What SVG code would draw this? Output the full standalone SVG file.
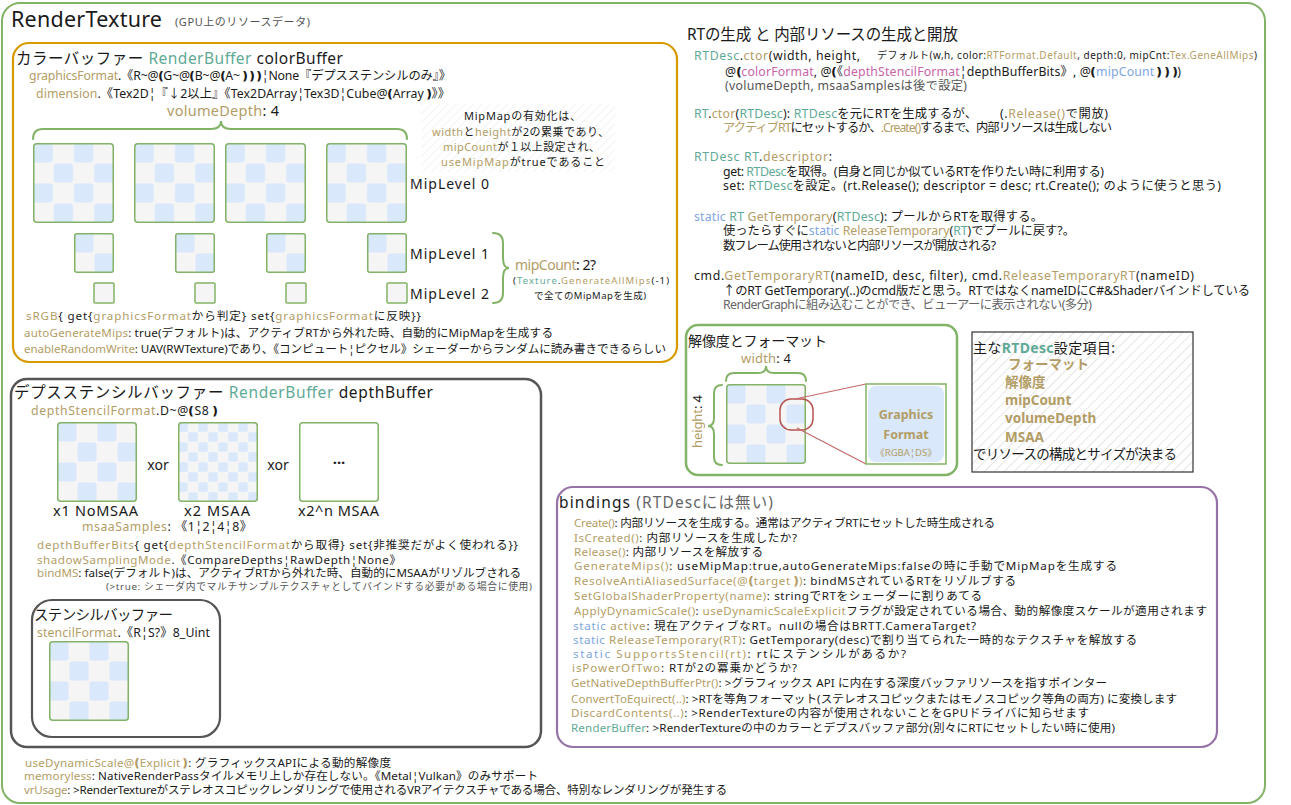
<svg xmlns="http://www.w3.org/2000/svg" width="1291" height="805" viewBox="0 0 1291 805">
<style>
text{font-family:"Noto Sans","Noto Sans CJK JP",sans-serif;fill:#1a1a1a}
.k{fill:#b39d66}.g{fill:#5faa96}.b{fill:#7ea6e0}.p{fill:#c864a8}.gr{fill:#666}
.s12{font-size:12.3px}.s11{font-size:11.6px}.s15{font-size:15.5px}.s14{font-size:14.5px}
.q{letter-spacing:-2.5px}
.brace{fill:none;stroke:#82b366;stroke-width:2;stroke-linecap:round}
.tex{fill:none;stroke:#82b366;stroke-width:1.5}
.bold{font-weight:bold}
</style>
<defs>
<pattern id="pc4" width="40" height="40" patternUnits="userSpaceOnUse">
<rect width="40" height="40" fill="#f5f5f5"/>
<rect x="0.5" y="0.5" width="19" height="19" rx="3" fill="#dae8fc"/>
<rect x="20.5" y="20.5" width="19" height="19" rx="3" fill="#dae8fc"/>
</pattern>
<pattern id="pc8" width="20" height="20" patternUnits="userSpaceOnUse">
<rect width="20" height="20" fill="#f5f5f5"/>
<rect x="0.3" y="0.3" width="9.4" height="9.4" rx="1.5" fill="#dae8fc"/>
<rect x="10.3" y="10.3" width="9.4" height="9.4" rx="1.5" fill="#dae8fc"/>
</pattern>
<pattern id="hatch" width="7" height="7" patternUnits="userSpaceOnUse" patternTransform="rotate(45)">
<rect width="7" height="7" fill="#fff"/>
<line x1="0" y1="0" x2="0" y2="7" stroke="#dcdcdc" stroke-width="1.4"/>
</pattern>
<pattern id="hatch2" width="6" height="6" patternUnits="userSpaceOnUse" patternTransform="rotate(45)">
<rect width="6" height="6" fill="#fff"/>
<line x1="0" y1="0" x2="0" y2="6" stroke="#eeeeee" stroke-width="1.4"/>
</pattern>
<symbol id="c4" viewBox="0 0 80 80" preserveAspectRatio="none">
<rect width="80" height="80" rx="3" fill="url(#pc4)"/>
<rect x="0.75" y="0.75" width="78.5" height="78.5" rx="3" class="tex"/>
</symbol>
<symbol id="c2" viewBox="0 0 40 40">
<rect width="40" height="40" rx="3" fill="url(#pc4)"/>
<rect x="0.75" y="0.75" width="38.5" height="38.5" rx="2" class="tex"/>
</symbol>
<symbol id="c8" viewBox="0 0 80 80">
<rect width="80" height="80" rx="3" fill="url(#pc8)"/>
<rect x="0.75" y="0.75" width="78.5" height="78.5" rx="3" class="tex"/>
</symbol>
</defs>
<rect width="1291" height="805" fill="#fff"/>

<g id="frame">
<rect x="2" y="3" width="1263" height="800" rx="18" fill="#fff" stroke="#82b366" stroke-width="2"/>
<text x="11" y="27" style="font-size:21.5px" textLength="151">RenderTexture</text>
<text x="175" y="26" style="font-size:11px;fill:#555" textLength="135">(GPU上のリソースデータ)</text>
</g>

<g id="colorBuffer">
<rect x="13" y="43" width="664" height="319" rx="16" fill="none" stroke="#d79b00" stroke-width="2.2"/>
<text x="16" y="64" class="s15" textLength="327">カラーバッファー <tspan class="g">RenderBuffer</tspan> colorBuffer</text>
<text x="29" y="80" class="s12" textLength="422"><tspan class="k">graphicsFormat</tspan>.《R~<tspan class="q">@❪</tspan>G~<tspan class="q">@❪</tspan>B~<tspan class="q">@❪</tspan>A~<tspan class="q">❫❫❫</tspan>¦None『デプスステンシルのみ』》</text>
<text x="36" y="98" class="s12" textLength="414"><tspan class="k">dimension</tspan>.《Tex2D¦『↓2以上』《Tex2DArray¦Tex3D¦Cube<tspan class="q">@❪</tspan>Array<tspan class="q">❫</tspan>》》</text>
<text x="167" y="116" style="font-size:14.5px" textLength="112"><tspan class="k">volumeDepth</tspan>: 4</text>
<rect x="421" y="104" width="194" height="68" fill="url(#hatch2)"/>
<g style="font-size:11px">
<text x="464" y="120" textLength="117">MipMapの有効化は、</text>
<text x="432" y="136" textLength="177"><tspan class="k">width</tspan>と<tspan class="k">height</tspan>が2の累乗であり、</text>
<text x="443" y="151" textLength="157"><tspan class="k">mipCount</tspan>が１以上設定され、</text>
<text x="441" y="166" textLength="164"><tspan class="k">useMipMap</tspan>がtrueであること</text>
</g>
<path class="brace" d="M33,139 Q33,129 43,129 L211,129 Q221,129 221,121 Q221,129 231,129 L397,129 Q407,129 407,139"/>
<use href="#c4" x="33" y="143" width="81" height="80"/>
<use href="#c4" x="134" y="143" width="81" height="80"/>
<use href="#c4" x="225" y="143" width="81" height="80"/>
<use href="#c4" x="326" y="143" width="81" height="80"/>
<use href="#c2" x="74" y="233" width="40" height="40"/>
<use href="#c2" x="175" y="233" width="40" height="40"/>
<use href="#c2" x="266" y="233" width="40" height="40"/>
<use href="#c2" x="367" y="233" width="40" height="40"/>
<g fill="#f5f5f5" stroke="#82b366" stroke-width="1.5">
<rect x="94" y="283" width="20" height="20" rx="1"/>
<rect x="195" y="283" width="20" height="20" rx="1"/>
<rect x="286" y="283" width="20" height="20" rx="1"/>
<rect x="387" y="283" width="20" height="20" rx="1"/>
</g>
<text x="410" y="189" style="font-size:14px" textLength="79">MipLevel 0</text>
<text x="410" y="259" style="font-size:14px" textLength="79">MipLevel 1</text>
<text x="410" y="299" style="font-size:14px" textLength="79">MipLevel 2</text>
<path class="brace" d="M493,233 Q503,233 503,243 L503,258 Q503,268 509,268 Q503,268 503,278 L503,293 Q503,303 493,303"/>
<text x="515" y="270" style="font-size:14px" textLength="81"><tspan class="k">mipCount</tspan>: 2?</text>
<text x="513" y="284" style="font-size:9.5px" textLength="156">(<tspan class="g">Texture</tspan>.<tspan class="k">GenerateAllMips</tspan>(-1)</text>
<text x="534" y="299" style="font-size:9.5px" textLength="112">で全てのMipMapを生成)</text>
<text x="26" y="320" class="s11" textLength="395"><tspan class="k">sRGB</tspan>{ get{<tspan class="k">graphicsFormat</tspan>から判定} set{<tspan class="k">graphicsFormat</tspan>に反映}}</text>
<text x="24" y="337" class="s11" textLength="529"><tspan class="k">autoGenerateMips</tspan>: true(デフォルト)は、アクティブRTから外れた時、自動的にMipMapを生成する</text>
<text x="24" y="353" class="s11" textLength="642"><tspan class="k">enableRandomWrite</tspan>: UAV(RWTexture)であり、《コンピュート¦ピクセル》シェーダーからランダムに読み書きできるらしい</text>
</g>

<g id="depthBuffer">
<rect x="11" y="379" width="530" height="368" rx="16" fill="none" stroke="#555" stroke-width="2.5"/>
<text x="14" y="398" class="s15" textLength="419">デプスステンシルバッファー  <tspan class="g">RenderBuffer</tspan> depthBuffer</text>
<text x="31" y="415" class="s12" textLength="186"><tspan class="k">depthStencilFormat</tspan>.D~<tspan class="q">@❪</tspan>S8<tspan class="q">❫</tspan></text>
<use href="#c4" x="57" y="422" width="80" height="80"/>
<use href="#c8" x="178" y="422" width="80" height="80"/>
<rect x="299.75" y="422.75" width="78.5" height="78.5" rx="3" fill="#fff" stroke="#82b366" stroke-width="1.5"/>
<text x="158" y="470" text-anchor="middle" style="font-size:14px">xor</text>
<text x="278" y="470" text-anchor="middle" style="font-size:14px">xor</text>
<text x="339" y="468" text-anchor="middle" style="font-size:15px" class="bold">···</text>
<text x="53" y="516" style="font-size:14.5px" textLength="85">x1 NoMSAA</text>
<text x="184" y="516" style="font-size:14.5px" textLength="66">x2 MSAA</text>
<text x="298" y="516" style="font-size:14.5px" textLength="81">x2^n MSAA</text>
<text x="82" y="531" class="s12" textLength="170"><tspan class="k">msaaSamples</tspan>: 《1¦2¦4¦8》</text>
<text x="37" y="549" class="s11" textLength="481"><tspan class="k">depthBufferBits</tspan>{ get{<tspan class="k">depthStencilFormat</tspan>から取得} set{非推奨だがよく使われる}}</text>
<text x="37" y="564" class="s11" textLength="364"><tspan class="k">shadowSamplingMode</tspan>.《CompareDepths¦RawDepth¦None》</text>
<text x="37" y="577" class="s11" textLength="484"><tspan class="k">bindMS</tspan>: false(デフォルト)は、アクティブRTから外れた時、自動的にMSAAがリゾルブされる</text>
<text x="106" y="590" style="font-size:9.8px;fill:#555" textLength="426">(&gt;true: シェーダ内でマルチサンプルテクスチャとしてバインドする必要がある場合に使用)</text>
</g>

<g id="stencilBuffer">
<rect x="32" y="600" width="188" height="137" rx="20" fill="none" stroke="#555" stroke-width="2.2"/>
<text x="34" y="620" class="s14" textLength="139">ステンシルバッファー</text>
<text x="37" y="637" class="s12" textLength="173"><tspan class="k">stencilFormat</tspan>.《R¦S?》8_Uint</text>
<use href="#c4" x="49" y="641" width="80" height="80"/>
</g>

<g id="bottomProps">
<text x="25" y="767" class="s11" textLength="366"><tspan class="k">useDynamicScale<tspan class="q">@❪</tspan>Explicit<tspan class="q">❫</tspan></tspan>: グラフィックスAPIによる動的解像度</text>
<text x="24" y="780" class="s11" textLength="514"><tspan class="k">memoryless</tspan>: NativeRenderPassタイルメモリ上しか存在しない。《Metal¦Vulkan》のみサポート</text>
<text x="24" y="794" class="s11" textLength="703"><tspan class="k">vrUsage</tspan>: &gt;RenderTextureがステレオスコピックレンダリングで使用されるVRアイテクスチャである場合、特別なレンダリングが発生する</text>
</g>

<g id="rtCreation">
<text x="687" y="40" style="font-size:15.5px" textLength="271">RTの生成 と 内部リソースの生成と開放</text>
<text x="694" y="60" class="s12" textLength="166"><tspan class="g">RTDesc</tspan>.<tspan class="k">ctor</tspan>(width, height,</text>
<text x="877" y="59" style="font-size:10px" textLength="380">デフォルト(w,h, color:<tspan class="k">RTFormat.Default</tspan>, depth:0, mipCnt:<tspan class="k">Tex.GeneAllMips</tspan>)</text>
<text x="725" y="76" class="s12" textLength="456"><tspan class="q">@❪</tspan><tspan class="p">colorFormat</tspan>, <tspan class="q">@❪</tspan>《<tspan class="p">depthStencilFormat</tspan>¦depthBufferBits》, <tspan class="q">@❪</tspan><tspan class="b">mipCount</tspan><tspan class="q">❫❫❫</tspan>)</text>
<text x="725" y="90" class="s12" style="fill:#555" textLength="242">(volumeDepth, msaaSamplesは後で設定)</text>
<text x="694" y="118" class="s12" textLength="283"><tspan class="g">RT</tspan>.<tspan class="k">ctor</tspan>(<tspan class="g">RTDesc</tspan>): <tspan class="g">RTDesc</tspan>を元にRTを生成するが、</text>
<text x="1000" y="118" class="s12" textLength="108">(.<tspan class="k">Release()</tspan>で開放)</text>
<text x="723" y="132" class="s12" textLength="389"><tspan class="k">アクティブRT</tspan>にセットするか、<tspan class="k">.Create()</tspan>するまで、内部リソースは生成しない</text>
<text x="694" y="161" class="s12" textLength="138"><tspan class="g">RTDesc RT</tspan>.<tspan class="k">descriptor</tspan>:</text>
<text x="723" y="176" class="s12" textLength="381">get: <tspan class="g">RTDesc</tspan>を取得。(自身と同じか似ているRTを作りたい時に利用する)</text>
<text x="723" y="190" class="s12" textLength="498">set: <tspan class="g">RTDesc</tspan>を設定。(rt.Release(); descriptor = desc; rt.Create(); のように使うと思う)</text>
<text x="694" y="221" class="s12" textLength="349"><tspan class="b">static</tspan> <tspan class="g">RT</tspan> <tspan class="k">GetTemporary</tspan>(<tspan class="g">RTDesc</tspan>): プールからRTを取得する。</text>
<text x="723" y="235" class="s12" textLength="352">使ったらすぐに<tspan class="b">static</tspan> <tspan class="k">ReleaseTemporary</tspan>(<tspan class="g">RT</tspan>)でプールに戻す?。</text>
<text x="723" y="250" class="s12" textLength="273">数フレーム使用されないと内部リソースが開放される?</text>
<text x="694" y="280" class="s12" textLength="500">cmd.<tspan class="k">GetTemporaryRT</tspan>(nameID, desc, filter), cmd.<tspan class="k">ReleaseTemporaryRT</tspan>(nameID)</text>
<text x="723" y="295" class="s12" textLength="527">↑のRT GetTemporary(..)のcmd版だと思う。RTではなくnameIDにC#&amp;Shaderバインドしている</text>
<text x="723" y="309" class="s12" style="fill:#666" textLength="369">RenderGraphに組み込むことができ、ビューアーに表示されない(多分)</text>
</g>

<g id="resolutionFormat">
<rect x="686" y="325" width="271" height="150" rx="12" fill="none" stroke="#82b366" stroke-width="2.5"/>
<text x="688" y="346" style="font-size:14px" textLength="139">解像度とフォーマット</text>
<text x="741" y="363" style="font-size:13px" textLength="50"><tspan class="k">width</tspan>: 4</text>
<path class="brace" d="M726,381 Q726,373 734,373 L758,373 Q766,373 766,366 Q766,373 774,373 L798,373 Q806,373 806,381"/>
<text transform="translate(702,448) rotate(-90)" style="font-size:13px" textLength="53"><tspan class="k">height</tspan>: 4</text>
<path class="brace" d="M722,385 Q714,385 714,393 L714,418 Q714,426 708,426 Q714,426 714,434 L714,457 Q714,465 722,465"/>
<use href="#c4" x="726" y="384" width="80" height="80"/>
<rect x="780" y="399" width="33" height="31" rx="11" fill="none" stroke="#b85450" stroke-width="1.5"/>
<path d="M795,399 L866,384 M797,428 L866,464" stroke="#c46a6a" stroke-width="1.2" fill="none"/>
<rect x="866" y="384" width="80" height="80" fill="#fff" stroke="#82b366" stroke-width="1.5"/>
<rect x="868" y="386" width="76" height="76" rx="8" fill="#dae8fc"/>
<text x="906" y="419" text-anchor="middle" style="font-size:12.5px" class="k bold">Graphics</text>
<text x="906" y="439" text-anchor="middle" style="font-size:12.5px" class="k bold">Format</text>
<text x="906" y="456" text-anchor="middle" style="font-size:9.5px" class="k">《RGBA¦DS》</text>
</g>

<g id="rtdescMain">
<rect x="972" y="332" width="221" height="140" fill="url(#hatch)" stroke="#333" stroke-width="1.2"/>
<text x="973" y="353" style="font-size:14px" textLength="142">主な<tspan class="g bold">RTDesc</tspan>設定項目:</text>
<g style="font-size:13.5px" class="k bold">
<text x="1008" y="369" class="k">フォーマット</text>
<text x="1005" y="387" class="k">解像度</text>
<text x="1005" y="405" class="k">mipCount</text>
<text x="1005" y="423" class="k">volumeDepth</text>
<text x="1005" y="442" class="k">MSAA</text>
</g>
<text x="973" y="459" style="font-size:13.5px" textLength="204">でリソースの構成とサイズが決まる</text>
</g>

<g id="bindings">
<rect x="557" y="487" width="660" height="260" rx="16" fill="none" stroke="#9673a6" stroke-width="2.2"/>
<text x="559" y="508" class="s15" textLength="214">bindings <tspan style="fill:#666">(RTDescには無い)</tspan></text>
<g style="font-size:11.6px">
<text x="574" y="527" textLength="421"><tspan class="k">Create()</tspan>: 内部リソースを生成する。通常はアクティブRTにセットした時生成される</text>
<text x="574" y="542" textLength="223"><tspan class="k">IsCreated()</tspan>: 内部リソースを生成したか?</text>
<text x="574" y="556" textLength="189"><tspan class="k">Release()</tspan>: 内部リソースを解放する</text>
<text x="574" y="570" textLength="543"><tspan class="k">GenerateMips()</tspan>: useMipMap:true,autoGenerateMips:falseの時に手動でMipMapを生成する</text>
<text x="574" y="585" textLength="442"><tspan class="k">ResolveAntiAliasedSurface(<tspan class="q">@❪</tspan>target<tspan class="q">❫</tspan>)</tspan>: bindMSされているRTをリゾルブする</text>
<text x="574" y="600" textLength="408"><tspan class="k">SetGlobalShaderProperty(name)</tspan>: stringでRTをシェーダーに割りあてる</text>
<text x="574" y="615" textLength="633"><tspan class="k">ApplyDynamicScale()</tspan>: <tspan class="k">useDynamicScaleExplicit</tspan>フラグが設定されている場合、動的解像度スケールが適用されます</text>
<text x="573" y="630" textLength="403"><tspan class="b">static</tspan> <tspan class="k">active</tspan>: 現在アクティブなRT。nullの場合はBRTT.CameraTarget?</text>
<text x="573" y="644" textLength="564"><tspan class="b">static</tspan> <tspan class="k">ReleaseTemporary(RT)</tspan>: GetTemporary(desc)で割り当てられた一時的なテクスチャを解放する</text>
<text x="573" y="658" textLength="333"><tspan class="b">static</tspan> <tspan class="k">SupportsStencil(rt)</tspan>: rtにステンシルがあるか?</text>
<text x="572" y="672" textLength="225"><tspan class="k">isPowerOfTwo</tspan>: RTが2の冪乗かどうか?</text>
<text x="571" y="687" textLength="536"><tspan class="k">GetNativeDepthBufferPtr()</tspan>: &gt;グラフィックス API に内在する深度バッファリソースを指すポインター</text>
<text x="571" y="703" textLength="606"><tspan class="k">ConvertToEquirect(..)</tspan>: &gt;RTを等角フォーマット(ステレオスコピックまたはモノスコピック等角の両方) に変換します</text>
<text x="571" y="717" textLength="518"><tspan class="k">DiscardContents(..)</tspan>: &gt;RenderTextureの内容が使用されないことをGPUドライバに知らせます</text>
<text x="571" y="732" textLength="544"><tspan class="g">RenderBuffer</tspan>: &gt;RenderTextureの中のカラーとデプスバッファ部分(別々にRTにセットしたい時に使用)</text>
</g>
</g>
</svg>
